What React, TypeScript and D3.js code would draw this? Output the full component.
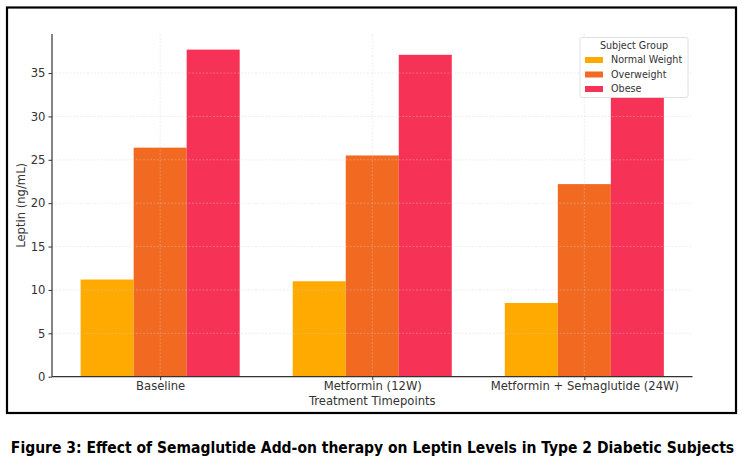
import React, { useEffect, useRef } from 'react';
import * as d3 from 'd3';

const timepoints = ['Baseline', 'Metformin (12W)', 'Metformin + Semaglutide (24W)'];
const groups = ['Normal Weight', 'Overweight', 'Obese'];
const normalWeight = [11.2, 11.0, 8.5];
const overweight = [26.4, 25.5, 22.2];
const obese = [37.7, 37.1, 32.2];
const yTicks = [0, 5, 10, 15, 20, 25, 30, 35];
const colors = ['#FFAA00', '#F26A21', '#F63356'];

const series = [normalWeight, overweight, obese];

const App: React.FC = () => {
  const ref = useRef<SVGSVGElement>(null);

  useEffect(() => {
    if (ref.current) drawChart(ref.current);
  }, []);

  return (
    <svg
      ref={ref}
      width={745}
      height={471}
      style={{ position: 'absolute', left: 0, top: 0, background: '#fff' }}
    ></svg>
  );
};

const drawChart = (el: SVGSVGElement) => {
  const svg = d3.select(el);
  svg.selectAll('*').remove();

  const left = 52;
  const right = 692.5;
  const top = 34;
  const bottom = 376.7;
  const font = 'DejaVu Sans, sans-serif';

  // outer frame
  svg
    .append('rect')
    .attr('x', 7)
    .attr('y', 7.5)
    .attr('width', 729)
    .attr('height', 405.5)
    .attr('fill', '#fff')
    .attr('stroke', '#000')
    .attr('stroke-width', 2.2);

  const xScale = d3.scaleLinear().domain([-0.51, 2.51]).range([left, right]);
  const yScale = d3.scaleLinear().domain([0, 39.5]).range([bottom, top]);
  const barW = 0.25;

  const g = svg.append('g');

  series.forEach((vals, si) => {
    g.selectAll(`.bar-${si}`)
      .data(vals)
      .enter()
      .append('rect')
      .attr('x', (d, i) => xScale(i + (si - 1.5) * barW))
      .attr('width', xScale(barW) - xScale(0))
      .attr('y', (d) => yScale(d))
      .attr('height', (d) => yScale(0) - yScale(d))
      .attr('fill', colors[si]);
  });

  // grid (drawn over the bars, faint)
  const grid = svg
    .append('g')
    .attr('stroke', '#cfcfcf')
    .attr('stroke-opacity', 0.45)
    .attr('stroke-width', 0.8)
    .attr('stroke-dasharray', '2,1.5');
  grid
    .selectAll('line.h')
    .data(yTicks)
    .enter()
    .append('line')
    .attr('x1', left)
    .attr('x2', right)
    .attr('y1', (d) => yScale(d))
    .attr('y2', (d) => yScale(d));
  grid
    .selectAll('line.v')
    .data(timepoints)
    .enter()
    .append('line')
    .attr('x1', (d, i) => xScale(i))
    .attr('x2', (d, i) => xScale(i))
    .attr('y1', top)
    .attr('y2', bottom);

  // axes
  const yAxisG = svg.append('g').attr('transform', `translate(${left},0)`);
  yAxisG.call(
    d3.axisLeft(yScale).tickValues(yTicks).tickSize(3.5).tickPadding(3).tickSizeOuter(0)
  );
  const xAxisG = svg.append('g').attr('transform', `translate(0,${bottom})`);
  xAxisG.call(
    d3
      .axisBottom(xScale)
      .tickValues([0, 1, 2])
      .tickFormat((d) => timepoints[d as number])
      .tickSize(3.5)
      .tickPadding(2)
      .tickSizeOuter(0)
  );

  svg.selectAll('.domain').attr('stroke', '#333').attr('stroke-width', 1.2);
  svg.selectAll('.tick line').attr('stroke', '#333').attr('stroke-width', 1);
  svg
    .selectAll('.tick text')
    .attr('fill', '#333')
    .style('font-family', font)
    .style('font-size', '11.6px');

  yAxisG.select('.domain').attr('d', `M0,${bottom}V${top}`);
  xAxisG.select('.domain').attr('d', `M${left},0H${right}`);

  svg
    .append('text')
    .attr('transform', `translate(25,${(top + bottom) / 2}) rotate(-90)`)
    .attr('text-anchor', 'middle')
    .attr('fill', '#333')
    .style('font-family', font)
    .style('font-size', '11.6px')
    .text('Leptin (ng/mL)');

  svg
    .append('text')
    .attr('x', xScale(1))
    .attr('y', 405)
    .attr('text-anchor', 'middle')
    .attr('fill', '#333')
    .style('font-family', font)
    .style('font-size', '11.6px')
    .text('Treatment Timepoints');

  // legend
  const lg = svg.append('g').attr('transform', 'translate(580,37.5)');
  lg.append('rect')
    .attr('width', 108)
    .attr('height', 60)
    .attr('rx', 2)
    .attr('fill', '#fff')
    .attr('fill-opacity', 0.9)
    .attr('stroke', '#d8d8d8')
    .attr('stroke-width', 0.8);
  lg.append('text')
    .attr('x', 54)
    .attr('y', 11)
    .attr('text-anchor', 'middle')
    .attr('fill', '#333')
    .style('font-family', font)
    .style('font-size', '9.6px')
    .text('Subject Group');
  const items = lg
    .selectAll('g.item')
    .data(groups)
    .enter()
    .append('g')
    .attr('transform', (d, i) => `translate(5,${22.5 + i * 14.5})`);
  items
    .append('rect')
    .attr('y', -3)
    .attr('width', 18)
    .attr('height', 6)
    .attr('fill', (d, i) => colors[i]);
  items
    .append('text')
    .attr('x', 26)
    .attr('y', 3.4)
    .attr('fill', '#333')
    .style('font-family', font)
    .style('font-size', '9.6px')
    .text((d) => d);

  // caption: shrink the font until it fits in the figure width
  const caption = svg
    .append('text')
    .attr('x', 372.5)
    .attr('y', 453)
    .attr('text-anchor', 'middle')
    .attr('fill', '#000')
    .style('font-family', 'Liberation Sans Narrow, DejaVu Sans Condensed, sans-serif')
    .style('font-weight', 'bold')
    .style('font-size', '17px')
    .text('Figure 3: Effect of Semaglutide Add-on therapy on Leptin Levels in Type 2 Diabetic Subjects');
  const node = caption.node() as SVGTextElement;
  const len = node.getComputedTextLength();
  if (len > 724) caption.style('font-size', `${(17 * 724) / len}px`);
};

export default App;
